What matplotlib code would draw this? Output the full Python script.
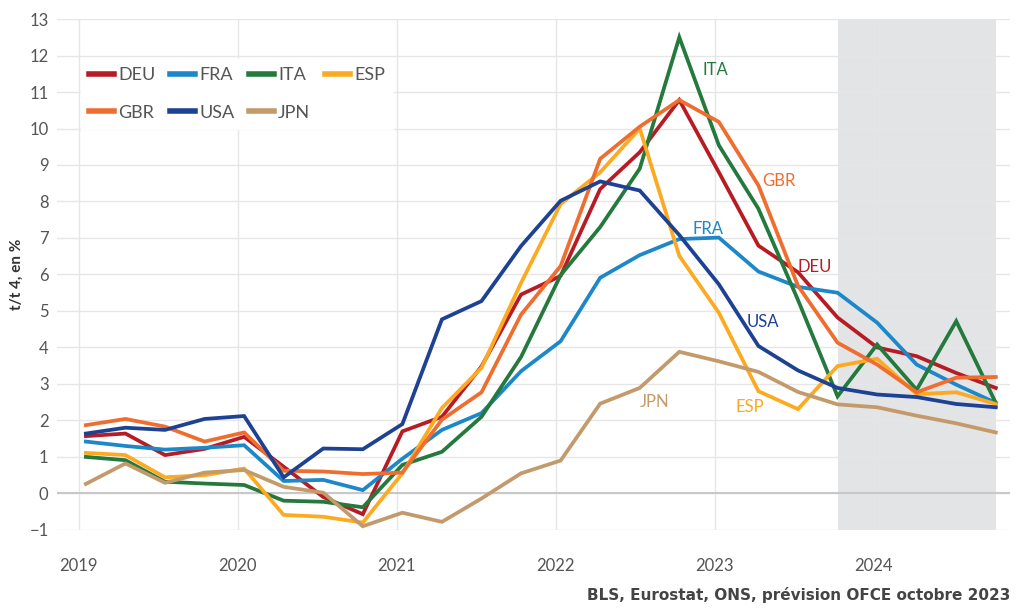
import matplotlib
matplotlib.use("Agg")
import matplotlib.pyplot as plt
from matplotlib.lines import Line2D

plt.rcParams['font.family'] = ['Lato', 'DejaVu Sans']

years = [2019, 2020, 2021, 2022, 2023, 2024]
n_q = 24
quarters = [2019.044 + i * 0.2488 for i in range(n_q)]

DEU = [1.57, 1.64, 1.05, 1.22, 1.55, 0.73, -0.1, -0.57, 1.7, 2.1, 3.48, 5.45, 5.96, 8.34, 9.35, 10.78,
       8.8, 6.79, 6.06, 4.82, 4.0, 3.76, 3.3, 2.89]
FRA = [1.42, 1.3, 1.2, 1.25, 1.32, 0.34, 0.37, 0.09, 0.95, 1.74, 2.2, 3.35, 4.17, 5.91, 6.53, 6.97,
       7.01, 6.08, 5.66, 5.5, 4.68, 3.53, 2.98, 2.48]
ITA = [1.0, 0.91, 0.32, 0.27, 0.23, -0.2, -0.23, -0.38, 0.78, 1.14, 2.1, 3.74, 5.98, 7.3, 8.9, 12.5,
       9.54, 7.8, 5.3, 2.66, 4.08, 2.84, 4.72, 2.48]
ESP = [1.11, 1.05, 0.44, 0.5, 0.68, -0.59, -0.64, -0.8, 0.55, 2.34, 3.44, 5.77, 7.93, 8.8, 10.0, 6.51,
       4.95, 2.8, 2.31, 3.49, 3.69, 2.72, 2.77, 2.45]
GBR = [1.87, 2.04, 1.83, 1.42, 1.67, 0.62, 0.6, 0.53, 0.57, 2.02, 2.77, 4.9, 6.23, 9.17, 10.05, 10.78,
       10.18, 8.44, 5.69, 4.13, 3.53, 2.77, 3.17, 3.19]
USA = [1.64, 1.8, 1.74, 2.04, 2.12, 0.44, 1.23, 1.21, 1.9, 4.77, 5.27, 6.78, 8.02, 8.55, 8.3, 7.08,
       5.73, 4.04, 3.37, 2.89, 2.71, 2.64, 2.45, 2.36]
JPN = [0.26, 0.82, 0.29, 0.57, 0.64, 0.18, 0.02, -0.9, -0.53, -0.78, -0.14, 0.55, 0.9, 2.46, 2.89, 3.88,
       3.62, 3.33, 2.78, 2.44, 2.36, 2.13, 1.92, 1.67]

series = [("DEU", DEU, "#B71C24"), ("FRA", FRA, "#1C87C9"), ("ITA", ITA, "#24793D"),
          ("ESP", ESP, "#FBAA22"), ("GBR", GBR, "#EF6D2E"), ("USA", USA, "#1D4193"),
          ("JPN", JPN, "#C39A6B")]

labels_pos = {"ITA": (2022.92, 11.6), "GBR": (2023.3, 8.57), "FRA": (2022.86, 7.25),
              "DEU": (2023.52, 6.2), "USA": (2023.2, 4.7), "JPN": (2022.53, 2.5),
              "ESP": (2023.13, 2.38)}

fig = plt.figure(figsize=(10.17, 6.14), dpi=100)
ax = fig.add_axes([0.056, 0.137, 0.937, 0.832])

ax.axvspan(quarters[19], quarters[23], color="#E3E4E6", zorder=0, lw=0)

for name, vals, col in series:
    ax.plot(quarters, vals, color=col, lw=2.7, zorder=3, solid_joinstyle='miter')
    lx, ly = labels_pos[name]
    ax.text(lx, ly, name, color=col, fontsize=12, ha="left", va="center", zorder=4)

ax.set_xlim(2018.862, 2024.855)
ax.set_ylim(-1, 13)
ax.set_yticks(range(-1, 14))
ax.set_xticks(years)
ax.set_xticklabels([str(y) for y in years])
ax.grid(True, color="#E6E6E6", lw=1.0, zorder=1)
ax.set_axisbelow(True)
ax.axhline(0, color="#C8C8C8", lw=1.5, zorder=2)
for s in ax.spines.values():
    s.set_visible(False)
ax.tick_params(axis="both", length=0, labelsize=12, labelcolor="#555555")
ax.tick_params(axis="x", pad=20)
ax.tick_params(axis="y", pad=6)
ax.set_ylabel("t/t 4, en %", fontsize=11, color="#333333", fontweight="bold", labelpad=4)

# legend is filled column by column: reorder so rows read DEU FRA ITA ESP / GBR USA JPN
order = [0, 4, 1, 5, 2, 6, 3]
handles = [Line2D([0], [0], color=series[i][2], lw=4) for i in order]
names = [series[i][0] for i in order]
leg = ax.legend(handles, names, ncol=4, loc="upper left", bbox_to_anchor=(0.016, 0.94),
                frameon=True, fontsize=13, handlelength=1.38, handletextpad=0.2,
                columnspacing=0.85, borderpad=0.45, labelspacing=1.2, fancybox=False)
leg.get_frame().set_facecolor("white")
leg.get_frame().set_edgecolor("white")
leg.get_frame().set_alpha(1)
for t in leg.get_texts():
    t.set_color("#555555")

fig.text(0.993, 0.018, "BLS, Eurostat, ONS, prévision OFCE octobre 2023",
         ha="right", va="bottom", fontsize=11, fontweight="bold", color="#444444",
         family=["Liberation Sans Narrow", "DejaVu Sans"])

fig.savefig("out.png", dpi=100)
